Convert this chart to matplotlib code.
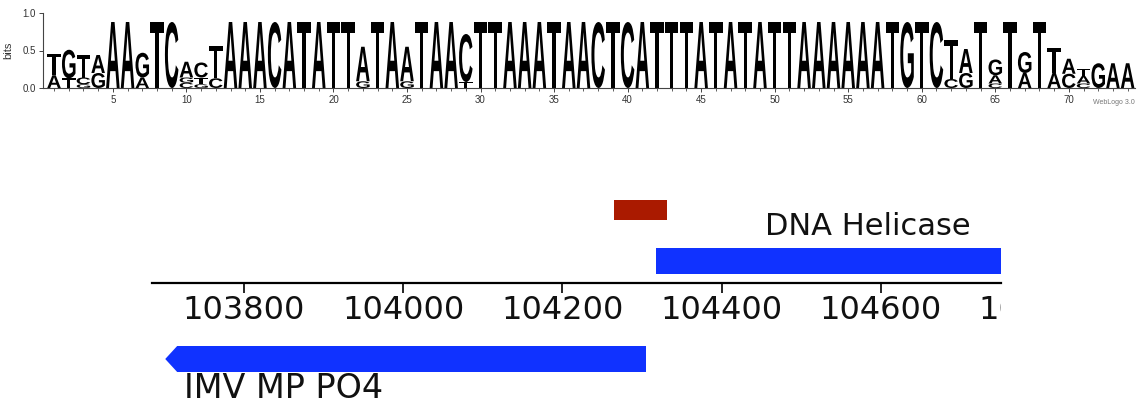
import matplotlib
matplotlib.use('Agg')
import matplotlib.pyplot as plt
from matplotlib.textpath import TextPath
from matplotlib.font_manager import FontProperties
from matplotlib.patches import PathPatch, Rectangle, Polygon
from matplotlib.transforms import Affine2D

# sequence logo: information content (bits) per base and position
positions = list(range(1, 75))
bits_A = [.17, 0, 0, .24, .88, .88, .14, 0, 0, .21,
          0, 0, .88, .88, .88, 0, .88, 0, .88, 0,
          0, .46, 0, .88, .46, 0, .88, .88, 0, 0,
          0, .88, .88, .88, 0, .88, .88, 0, 0, 0,
          .88, 0, 0, 0, .88, 0, .88, 0, .88, 0,
          0, .88, .88, .88, .88, .88, .88, 0, 0, 0,
          0, 0, .32, 0, .11, 0, .20, 0, .20, .20,
          .10, 0, .33, .33]
bits_C = [0, 0, .09, 0, 0, 0, 0, 0, .88, .07,
          .20, .13, 0, 0, 0, .88, 0, 0, 0, 0,
          0, 0, 0, 0, 0, 0, 0, 0, .64, 0,
          0, 0, 0, 0, 0, 0, 0, .88, 0, .88,
          0, 0, 0, 0, 0, 0, 0, 0, 0, 0,
          0, 0, 0, 0, 0, 0, 0, 0, 0, 0,
          .88, .12, 0, 0, .06, 0, 0, 0, 0, .19,
          .06, 0, 0, 0]
bits_G = [0, .38, .05, .20, 0, 0, .33, 0, 0, .07,
          .05, 0, 0, 0, 0, 0, 0, 0, 0, 0,
          0, .09, 0, 0, .09, 0, 0, 0, 0, 0,
          0, 0, 0, 0, 0, 0, 0, 0, 0, 0,
          0, 0, 0, 0, 0, 0, 0, 0, 0, 0,
          0, 0, 0, 0, 0, 0, 0, 0, .88, 0,
          0, 0, .20, 0, .21, 0, .28, 0, 0, 0,
          0, .33, 0, 0]
bits_T = [.29, .13, .30, 0, 0, 0, 0, .88, 0, 0,
          .09, .43, 0, 0, 0, 0, 0, .88, 0, .88,
          .88, 0, .88, 0, 0, .88, 0, 0, .08, .88,
          .88, 0, 0, 0, .88, 0, 0, 0, .88, 0,
          0, .88, .88, .88, 0, .88, 0, .88, 0, .88,
          .88, 0, 0, 0, 0, 0, 0, .88, 0, .88,
          0, .52, 0, .88, 0, .88, 0, .88, .34, 0,
          .10, 0, 0, 0]

# genome track around the motif
track_ticks = [103800, 104000, 104200, 104400, 104600, 104800]
motif_start, motif_end = 104265, 104331
helicase_start, helicase_end = 104317, 105200
imv_start, imv_end = 103701, 104305

W, H = 1142, 407
fig = plt.figure(figsize=(W / 100, H / 100), dpi=100)

LOGO_FONT = FontProperties(family='Liberation Sans', weight='bold')


def draw_letter(ax, letter, x, y0, h, width=0.92):
    path = TextPath((0, 0), letter, size=1, prop=LOGO_FONT)
    ext = path.get_extents()
    tr = (Affine2D().translate(-ext.x0, -ext.y0)
          .scale(width / ext.width, h / ext.height)
          .translate(x - width / 2, y0))
    ax.add_patch(PathPatch(tr.transform_path(path), fc='black', ec='none', lw=0))


######## logo ########
ax = fig.add_axes([43 / W, 1 - 88 / H, (1135 - 43) / W, 75 / H])
for i, pos in enumerate(positions):
    stack = [(bits_A[i], 'A'), (bits_C[i], 'C'), (bits_G[i], 'G'), (bits_T[i], 'T')]
    stack = sorted([s for s in stack if s[0] > 0])
    y = 0
    for h, letter in stack:
        draw_letter(ax, letter, pos, y, h)
        y += h

ax.set_xlim(0.25, 74.5)
ax.set_ylim(0, 1)
ax.set_xticks(range(5, 75, 5))
ax.set_xticks(positions, minor=True)
ax.set_yticks([0, 0.5, 1.0])
ax.set_yticklabels(['0.0', '0.5', '1.0'])
for s in ['top', 'right']:
    ax.spines[s].set_visible(False)
for s in ['left', 'bottom']:
    ax.spines[s].set_linewidth(0.8)
    ax.spines[s].set_color('#444444')
ax.tick_params(which='major', length=3, width=0.7, color='#444444',
               labelsize=7, labelcolor='#333333', pad=2)
ax.tick_params(which='minor', length=2, width=0.6, color='#444444')
for lab in ax.get_xticklabels() + ax.get_yticklabels():
    lab.set_family('Liberation Sans')
ax.set_ylabel('bits', fontsize=8, color='#333333', family='Liberation Sans')
ax.yaxis.set_label_coords(-0.027, 0.5)
fig.text(1135 / W, 1 - 103 / H, 'WebLogo 3.0', ha='right', va='center',
         fontsize=5, color='#777777', family='Liberation Sans')

######## genome track ########
bx = fig.add_axes([152.5 / W, 0, (1001 - 152.5) / W, 217 / H])
bx.set_xlim(103685, 104751)
bx.set_ylim(-124, 93)
for s in ['top', 'right', 'left']:
    bx.spines[s].set_visible(False)
bx.spines['bottom'].set_position(('data', 0))
bx.spines['bottom'].set_linewidth(1.6)
bx.set_yticks([])
bx.set_xticks([t for t in track_ticks if t < 104751])
bx.tick_params(axis='x', direction='out', length=7, width=1.2, labelbottom=False)
for t in track_ticks:
    bx.text(t, -36, str(t), ha='center', va='baseline', fontsize=23,
            family='DejaVu Sans', color='#111111', clip_on=True)

blue = '#1032ff'
bx.add_patch(Rectangle((motif_start, 63), motif_end - motif_start, 20,
                       fc='#aa1a00', ec='none'))
bx.add_patch(Rectangle((helicase_start, 9), helicase_end - helicase_start, 26,
                       fc=blue, ec='none'))
head = 15
bx.add_patch(Polygon([(imv_end, -89), (imv_start + head, -89), (imv_start, -76),
                      (imv_start + head, -63), (imv_end, -63)],
                     closed=True, fc=blue, ec='none'))
bx.text(104455, 48, 'DNA Helicase', ha='left', va='baseline', fontsize=22,
        family='DejaVu Sans', color='#111111')
bx.text(103725, -115, 'IMV MP PO4', ha='left', va='baseline', fontsize=24,
        family='DejaVu Sans', color='#111111')

fig.savefig('out.png', dpi=100)
